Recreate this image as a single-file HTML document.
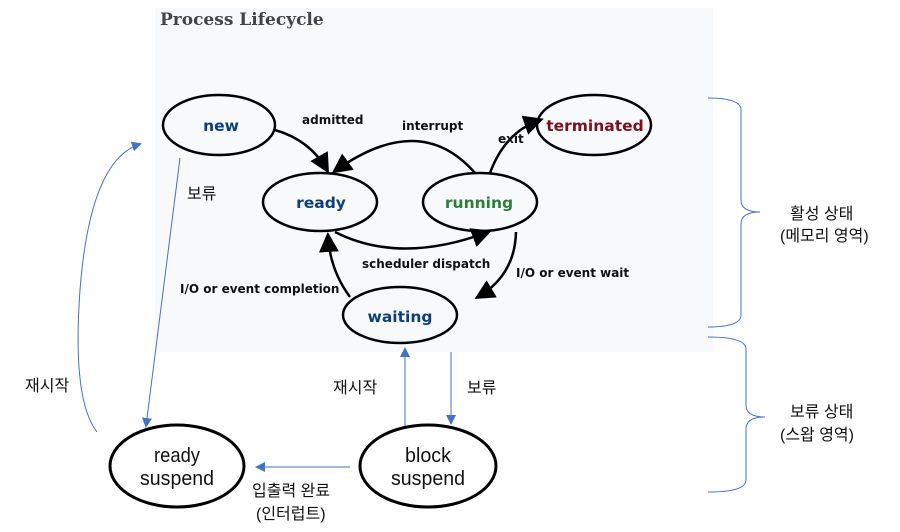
<!DOCTYPE html>
<html><head><meta charset="utf-8"><style>
body{margin:0;background:#fff;width:900px;height:532px;overflow:hidden}
svg{display:block}
.k{font-family:"Liberation Sans","Noto Sans CJK KR",sans-serif;fill:#111}
.d{font-family:"DejaVu Sans","Liberation Sans",sans-serif;font-weight:bold}
</style></head><body>
<svg width="900" height="532" viewBox="0 0 900 532" xmlns="http://www.w3.org/2000/svg">
<defs>
<marker id="ba" markerWidth="10" markerHeight="10" refX="8" refY="5" orient="auto" markerUnits="userSpaceOnUse"><path d="M0,0 L10,5 L0,10 z" fill="#4472c4"/></marker>
<marker id="ka" markerWidth="20" markerHeight="20" refX="16" refY="10" orient="auto" markerUnits="userSpaceOnUse"><path d="M0,0 L20,10 L0,20 z" fill="#000"/></marker>
</defs>
<rect x="155" y="8" width="558" height="344" fill="#f8f9fb"/>
<text x="160" y="25" font-family="DejaVu Serif,Liberation Serif,serif" font-weight="bold" font-size="17" fill="#444">Process Lifecycle</text>
<g fill="none" stroke="#000" stroke-width="2.5">
<ellipse cx="219" cy="125" rx="56" ry="30"/>
<ellipse cx="320" cy="202" rx="57" ry="29"/>
<ellipse cx="480" cy="202" rx="57" ry="29"/>
<ellipse cx="594" cy="125" rx="57" ry="30"/>
<ellipse cx="400" cy="315" rx="57" ry="28"/>
<path d="M275,130 Q310,140 327,170" marker-end="url(#ka)"/>
<path d="M475,173 Q420,110 335,171" marker-end="url(#ka)"/>
<path d="M490,173 Q505,132 540,120" marker-end="url(#ka)"/>
<path d="M335,232 Q400,265 488,232" marker-end="url(#ka)"/>
<path d="M516,232 Q515,275 478,297" marker-end="url(#ka)"/>
<path d="M350,297 Q330,270 328,236" marker-end="url(#ka)"/>
</g>
<g class="d" font-size="15.5" text-anchor="middle">
<text x="221" y="131" fill="#0d3f7a">new</text>
<text x="321" y="208" fill="#0d3f7a">ready</text>
<text x="479" y="208" fill="#2e7d3c">running</text>
<text x="595" y="131" fill="#7a0f1f">terminated</text>
<text x="400" y="322" fill="#0d3f7a">waiting</text>
</g>
<g class="d" font-size="12" font-weight="normal" fill="#111">
<text x="302" y="124">admitted</text>
<text x="402" y="130">interrupt</text>
<text x="498" y="143">exit</text>
<text x="362" y="268">scheduler dispatch</text>
<text x="516" y="277">I/O or event wait</text>
<text x="180" y="293">I/O or event completion</text>
</g>
<g fill="none" stroke="#4472c4" stroke-width="1">
<path d="M180,158 L146,426" marker-end="url(#ba)"/>
<path d="M97,432 Q72,400 80,290 Q90,160 140,144" marker-end="url(#ba)"/>
<path d="M405,427 L405,349" marker-end="url(#ba)"/>
<path d="M451,352 L451,423" marker-end="url(#ba)"/>
<path d="M350,467 L257,467" marker-end="url(#ba)"/>
<path d="M708,98 Q741,98 741,110 L741,200 Q741,212 760,212 Q741,212 741,224 L741,315 Q741,327 708,327"/>
<path d="M708,337 Q746,337 746,349 L746,405 Q746,417 765,417 Q746,417 746,429 L746,480 Q746,492 708,492"/>
</g>
<g fill="none" stroke="#000" stroke-width="3">
<ellipse cx="177" cy="466" rx="67" ry="41"/>
<ellipse cx="428" cy="466" rx="68" ry="41"/>
</g>
<g class="k" font-size="20" text-anchor="middle">
<text x="177" y="462" textLength="46" lengthAdjust="spacingAndGlyphs">ready</text><text x="177" y="485" textLength="74" lengthAdjust="spacingAndGlyphs">suspend</text>
<text x="428" y="462" textLength="46" lengthAdjust="spacingAndGlyphs">block</text><text x="428" y="485" textLength="74" lengthAdjust="spacingAndGlyphs">suspend</text>
</g>
<g class="k" font-size="16">
<text x="187" y="199">보류</text>
<text x="25" y="391">재시작</text>
<text x="333" y="393">재시작</text>
<text x="467" y="393">보류</text>
<text x="252" y="496">입출력 완료</text>
<text x="256" y="519">(인터럽트)</text>
<text x="790" y="219">활성 상태</text>
<text x="780" y="241">(메모리 영역)</text>
<text x="790" y="417">보류 상태</text>
<text x="780" y="440">(스왑 영역)</text>
</g>
</svg>
</body></html>
